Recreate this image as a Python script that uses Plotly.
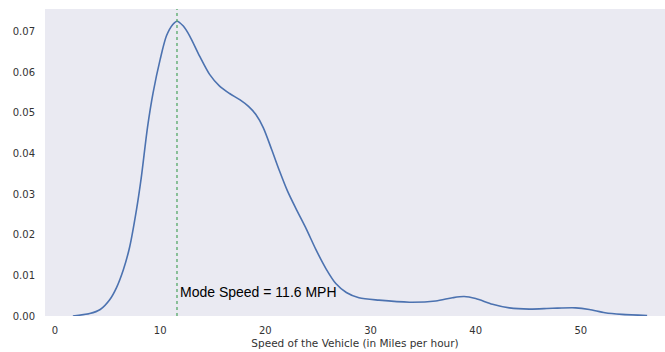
import plotly.graph_objects as go

# Kernel density estimate of vehicle speeds (MPH) and its mode
speed_mph = [1.7, 3.3, 4.3, 5.2, 5.85, 6.5, 7.1, 7.75, 8.2, 8.8, 9.33, 10.0,
             10.6, 11.2, 11.6, 12.2, 12.8, 13.75, 14.7, 15.65, 16.6, 17.6,
             18.4, 19.1, 19.8, 20.6, 21.35, 22.1, 22.9, 23.9, 24.8, 25.8,
             26.7, 27.7, 28.9, 30.8, 33.7, 36.2, 37.8, 38.9, 40.0, 41.6,
             43.2, 45.1, 47.3, 49.5, 50.8, 52.3, 53.9, 56.3]
density = [0.0, 0.0006, 0.0016, 0.0040, 0.0070, 0.0114, 0.0170, 0.0262,
           0.0340, 0.0465, 0.0550, 0.0632, 0.0690, 0.0718, 0.0726, 0.0714,
           0.0690, 0.0640, 0.0595, 0.0566, 0.0548, 0.0532, 0.0516, 0.0496,
           0.0464, 0.0410, 0.0357, 0.0308, 0.0265, 0.0214, 0.0164, 0.0115,
           0.0080, 0.0058, 0.0045, 0.0039, 0.0034, 0.0037, 0.0045, 0.0048,
           0.0043, 0.0029, 0.0020, 0.0017, 0.0019, 0.0020, 0.0016, 0.0008,
           0.0004, 0.0001]
mode_speed = 11.6

x_ticks = [0, 10, 20, 30, 40, 50]
y_ticks = [0.00, 0.01, 0.02, 0.03, 0.04, 0.05, 0.06, 0.07]
y_tick_labels = ["0.00", "0.01", "0.02", "0.03", "0.04", "0.05", "0.06", "0.07"]

fig = go.Figure()
fig.add_trace(go.Scatter(
    x=speed_mph, y=density, mode="lines",
    line=dict(color="#4C72B0", width=1.6, shape="spline", smoothing=0.8),
    hoverinfo="skip", showlegend=False,
))

fig.add_shape(type="line", xref="x", yref="paper",
              x0=mode_speed, x1=mode_speed, y0=0, y1=1,
              line=dict(color="#55A868", width=1.3, dash="dot"))

fig.add_annotation(x=mode_speed, y=0.0058, xref="x", yref="y",
                   text=f"Mode Speed = {mode_speed} MPH",
                   showarrow=False, xanchor="left", yanchor="middle", xshift=1,
                   font=dict(family="Liberation Sans, Arial", size=14, color="#000000"))

axis_font = dict(family="DejaVu Sans", size=10, color="#333333")

fig.update_layout(
    width=665, height=352,
    margin=dict(l=45, r=0, t=9, b=36),
    paper_bgcolor="white", plot_bgcolor="#EAEAF2",
    xaxis=dict(range=[-0.95, 58.0], tickvals=x_ticks, showgrid=False,
               zeroline=False, showline=False, ticks="",
               ticklabelstandoff=7, tickfont=axis_font,
               title=dict(text="Speed of the Vehicle (in Miles per hour)",
                          font=dict(family="DejaVu Sans", size=10.5, color="#333333"),
                          standoff=4)),
    yaxis=dict(range=[0, 0.0756], tickvals=y_ticks, ticktext=y_tick_labels,
               showgrid=False, zeroline=False, showline=False, ticks="",
               ticklabelstandoff=9, tickfont=axis_font),
)

fig.write_html("out.html")
